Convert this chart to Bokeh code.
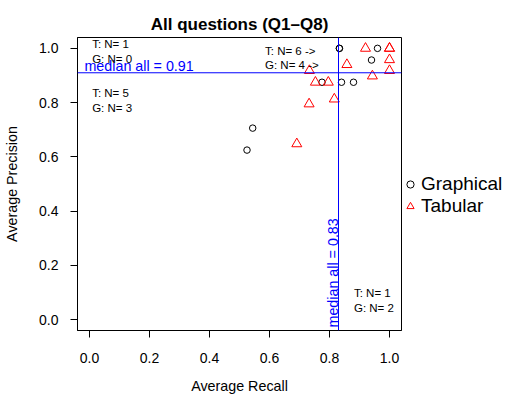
import math
from bokeh.plotting import figure
from bokeh.models import (Span, Label, Legend, LegendItem, FixedTicker,
                          PrintfTickFormatter, ColumnDataSource, Range1d)
from bokeh.embed import file_html
from bokeh.resources import INLINE

# ---------------- data ----------------
title_text = "All questions (Q1\u2013Q8)"
x_label = "Average Recall"
y_label = "Average Precision"
x_ticks = [0.0, 0.2, 0.4, 0.6, 0.8, 1.0]
y_ticks = [0.0, 0.2, 0.4, 0.6, 0.8, 1.0]

graphical_recall = [0.833, 0.833, 0.96, 0.94, 0.775, 0.84, 0.88, 0.544, 0.525]
graphical_precision = [1.0, 1.0, 1.0, 0.957, 0.875, 0.875, 0.875, 0.706, 0.625]

tabular_recall = [0.92, 1.0, 1.0, 1.0, 1.0, 0.858, 0.943, 0.733, 0.753, 0.796, 0.816, 0.732, 0.691]
tabular_precision = [1.0, 1.0, 1.0, 0.958, 0.918, 0.94, 0.898, 0.918, 0.875, 0.875, 0.813, 0.795, 0.648]

median_recall = 0.83
median_precision = 0.91

# quadrant counts: top-left, top-right, bottom-left, bottom-right
tab_counts = [1, 6, 5, 1]
gra_counts = [0, 4, 3, 2]

series_names = ["Graphical", "Tabular"]

# ---------------- figure ----------------
FONT = "Liberation Sans"
p = figure(width=506, height=396, frame_width=324, frame_height=293,
           output_backend="svg", toolbar_location=None,
           x_range=Range1d(-0.04, 1.04), y_range=Range1d(-0.04, 1.04),
           min_border_left=77, min_border_right=105, min_border_top=37,
           min_border_bottom=66)
p.background_fill_color = "white"
p.border_fill_color = "white"
p.outline_line_color = "black"
p.outline_line_width = 1
p.outline_line_alpha = 1
p.grid.visible = False

p.title.text = title_text
p.title.align = "center"
p.title.text_font = FONT
p.title.text_font_size = "17px"
p.title.text_font_style = "bold"
p.title.text_color = "black"
p.title.standoff = 8

for ax, ticks in ((p.xaxis[0], x_ticks), (p.yaxis[0], y_ticks)):
    ax.ticker = FixedTicker(ticks=ticks)
    ax.formatter = PrintfTickFormatter(format="%.1f")
    ax.major_tick_in = 0
    ax.major_tick_out = 7
    ax.minor_tick_line_color = None
    ax.axis_line_color = "black"
    ax.major_tick_line_color = "black"
    ax.major_label_text_font = FONT
    ax.major_label_text_font_size = "14px"
    ax.major_label_text_color = "black"
    ax.axis_label_text_font = FONT
    ax.axis_label_text_font_size = "14.3px"
    ax.axis_label_text_font_style = "normal"
    ax.axis_label_text_color = "black"

p.xaxis[0].major_label_standoff = 15
p.xaxis[0].axis_label = x_label
p.xaxis[0].axis_label_standoff = 12
p.yaxis[0].major_label_standoff = 12
p.yaxis[0].axis_label = y_label
p.yaxis[0].axis_label_standoff = 16

# ---------------- points ----------------
gsrc = ColumnDataSource(dict(x=graphical_recall, y=graphical_precision))
tsrc = ColumnDataSource(dict(x=tabular_recall, y=tabular_precision))
rg = p.scatter("x", "y", source=gsrc, marker="circle", size=6.5,
               fill_color=None, line_color="black", line_width=1)
rt = p.scatter("x", "y", source=tsrc, marker="triangle", size=10,
               fill_color=None, line_color="red", line_width=1)
# invisible renderer used only as a spacer row in the legend
rblank = p.scatter(x=[], y=[], marker="circle", size=1, fill_alpha=0, line_alpha=0)

# ---------------- median lines ----------------
p.add_layout(Span(location=median_precision, dimension="width",
                  line_color="blue", line_width=1))
p.add_layout(Span(location=median_recall, dimension="height",
                  line_color="blue", line_width=1))

DY = 0.0166  # baseline correction
p.add_layout(Label(x=-0.0168, y=0.918 + DY, text="median all = %.2f" % median_precision,
                   text_font=FONT, text_font_size="14.3px", text_color="blue",
                   text_align="left", text_baseline="alphabetic"))
p.add_layout(Label(x=0.810, y=-0.029, text="median all = %.2f" % median_recall,
                   angle=math.pi / 2, text_font=FONT, text_font_size="14.3px",
                   text_color="blue", text_align="left", text_baseline="alphabetic"))

# ---------------- quadrant count labels ----------------
def count_label(x, y, txt):
    p.add_layout(Label(x=x, y=y + DY, text=txt, text_font=FONT, text_font_size="11.5px",
                       text_color="black", text_align="left",
                       text_baseline="alphabetic"))

count_label(0.0088, 0.9976, "T: N= %d" % tab_counts[0])
count_label(0.0088, 0.944, "G: N= %d" % gra_counts[0])
count_label(0.585, 0.974, "T: N= %d ->" % tab_counts[1])
count_label(0.585, 0.921, "G: N= %d ->" % gra_counts[1])
count_label(0.0088, 0.819, "T: N= %d" % tab_counts[2])
count_label(0.0088, 0.765, "G: N= %d" % gra_counts[2])
count_label(0.8816, 0.0805, "T: N= %d" % tab_counts[3])
count_label(0.8816, 0.025, "G: N= %d" % gra_counts[3])

# ---------------- legend (outside right) ----------------
legend = Legend(items=[LegendItem(label=" ", renderers=[rblank]),
                       LegendItem(label=series_names[0], renderers=[rg]),
                       LegendItem(label=series_names[1], renderers=[rt])],
                location="left", glyph_width=18, glyph_height=22,
                label_height=22, label_standoff=2,
                padding=0, margin=0, spacing=0,
                label_text_font=FONT, label_text_font_size="19px",
                label_text_color="black", border_line_alpha=0,
                background_fill_alpha=0)
p.add_layout(legend, "right")

open("out.html", "w").write(file_html(p, INLINE))
